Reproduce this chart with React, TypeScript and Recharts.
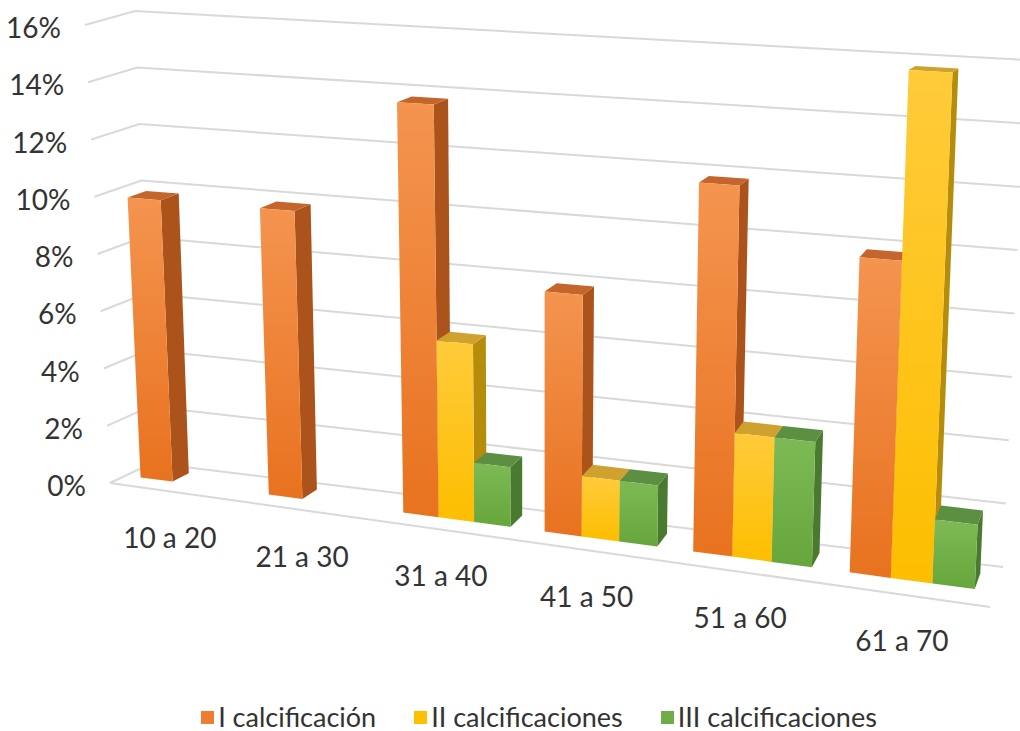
import React from 'react';
import { BarChart, Bar, XAxis, YAxis, CartesianGrid, Legend } from 'recharts';

// data: share of patients per age group (percent)
const categories = ['10 a 20', '21 a 30', '31 a 40', '41 a 50', '51 a 60', '61 a 70'];
const calcI = [9.8, 9.8, 13.73, 7.84, 11.76, 9.8];
const calcII = [0, 0, 5.88, 1.96, 3.92, 15.69];
const calcIII = [0, 0, 1.96, 1.96, 3.92, 1.96];
const seriesNames = ['I calcificación', 'II calcificaciones', 'III calcificaciones'];
const yTicks = [0, 2, 4, 6, 8, 10, 12, 14, 16];

const data = categories.map((cat, i) => ({ cat, c1: calcI[i], c2: calcII[i], c3: calcIII[i] }));

const W = 1020;
const H = 731;
const MARGIN = { top: 10, right: 20, bottom: 0, left: 20 };
const Y_AXIS_W = 60;
const PLOT_LEFT = MARGIN.left + Y_AXIS_W;
const PLOT_W = W - MARGIN.left - MARGIN.right - Y_AXIS_W;
const V_MAX = 16;
const FONT = 'Lato, "Open Sans", sans-serif';

// screen corners of the 3d box the flat chart is projected into
const FRAME = {
  front: { lb: [110, 483], lt: [85, 25], rb: [990, 607], rt: [1014, 69] },
  back: { lb: [152, 463], lt: [135, 11], rb: [1003, 567], rt: [1026, 60] },
};
const WARP = -0.14; // right side is closer, categories widen
const BAR_FRONT = 0.38;
const BAR_BACK = 0.78;

const PALETTE = [
  { base: '#ED7D31', top: '#F4944F', bottom: '#E8721F', side: '#AC531C', cap: '#C4662C' },
  { base: '#FFC000', top: '#FFCB3A', bottom: '#FDBE00', side: '#B58D0A', cap: '#CFA12E' },
  { base: '#70AD47', top: '#7DBA55', bottom: '#66A63C', side: '#4A7A30', cap: '#5C8F42' },
];

type P = number[];
const lerp = (a: P, b: P, t: number): P => [a[0] + (b[0] - a[0]) * t, a[1] + (b[1] - a[1]) * t];
const warp = (u: number) => (u * (1 + WARP)) / (1 + WARP * u);

function project(u: number, v: number, d: number): P {
  const g = warp(u);
  const t = v / V_MAX;
  const plane = (f: any) => lerp(lerp(f.lb, f.rb, g), lerp(f.lt, f.rt, g), t);
  return lerp(plane(FRAME.front), plane(FRAME.back), d);
}

const pts = (list: P[]) => list.map((p) => `${p[0].toFixed(1)},${p[1].toFixed(1)}`).join(' ');

const Box3D = (props: any) => {
  const { x, y, width, height, background, series, payload, dataKey } = props;
  if (!(height > 0.5)) return <g />;
  const u0 = (x - PLOT_LEFT) / PLOT_W;
  const u1 = (x + width - PLOT_LEFT) / PLOT_W;
  let v0 = 0;
  let v1 = payload ? payload[dataKey] : 0;
  if (background && background.height > 0) {
    const base = background.y + background.height;
    v1 = ((base - y) / background.height) * V_MAX;
    v0 = ((base - y - height) / background.height) * V_MAX;
  }
  const c = PALETTE[series];
  const front = [project(u0, v0, BAR_FRONT), project(u1, v0, BAR_FRONT), project(u1, v1, BAR_FRONT), project(u0, v1, BAR_FRONT)];
  const side = [project(u1, v0, BAR_FRONT), project(u1, v0, BAR_BACK), project(u1, v1, BAR_BACK), project(u1, v1, BAR_FRONT)];
  const top = [project(u0, v1, BAR_FRONT), project(u1, v1, BAR_FRONT), project(u1, v1, BAR_BACK), project(u0, v1, BAR_BACK)];
  return (
    <g>
      <polygon points={pts(side)} fill={c.side} />
      <polygon points={pts(top)} fill={c.cap} />
      <polygon points={pts(front)} fill={`url(#front-${series})`} />
    </g>
  );
};

const gridLine = (p: any) => {
  const v = ((p.y + p.height - p.y1) / p.height) * V_MAX;
  const line = [project(0, v, 0), project(0, v, 1), project(1, v, 1)];
  return (
    <g key={p.key}>
      <polyline points={pts(line)} fill="none" stroke="#D9D9D9" strokeWidth={2} />
      {Math.abs(v) < 0.01 && (
        <polyline points={pts([project(0, 0, 0), project(1, 0, 0)])} fill="none" stroke="#D9D9D9" strokeWidth={2} />
      )}
    </g>
  );
};

const YTick = ({ payload }: any) => {
  const [px, py] = project(0, payload.value, 0);
  return (
    <text x={px - 24} y={py + 2} textAnchor="end" dominantBaseline="central" fontFamily={FONT} fontSize={28} fill="#333">
      {payload.value}%
    </text>
  );
};

const XTick = ({ payload }: any) => {
  const u = (payload.coordinate - PLOT_LEFT) / PLOT_W;
  const [px, py] = project(u, 0, 0);
  return (
    <text x={px - 4} y={py + 45} textAnchor="middle" dominantBaseline="central" fontFamily={FONT} fontSize={28} fill="#333">
      {payload.value}
    </text>
  );
};

const LegendContent = ({ payload }: any) => (
  <div style={{ display: 'flex', justifyContent: 'center', gap: 38, paddingLeft: 58, fontFamily: FONT, fontSize: 27, color: '#333', lineHeight: '32px' }}>
    {(payload || []).map((e: any) => (
      <span key={e.value} style={{ display: 'flex', alignItems: 'center' }}>
        <span style={{ display: 'inline-block', width: 13, height: 13, background: e.color, marginRight: 4 }} />
        {e.value}
      </span>
    ))}
  </div>
);

export default function App() {
  const keys = ['c1', 'c2', 'c3'];
  return (
    <div style={{ position: 'absolute', left: 0, top: 0, width: W, height: H, background: '#fff' }}>
      <BarChart width={W} height={H} data={data} margin={MARGIN} barCategoryGap="11.7%" barGap={0}>
        <defs>
          {PALETTE.map((c, i) => (
            <linearGradient key={i} id={`front-${i}`} x1="0" y1="0" x2="0" y2="1">
              <stop offset="0%" stopColor={c.top} />
              <stop offset="100%" stopColor={c.bottom} />
            </linearGradient>
          ))}
        </defs>
        <CartesianGrid vertical={false} horizontal={gridLine} />
        <XAxis dataKey="cat" height={40} axisLine={false} tickLine={false} interval={0} tick={<XTick />} />
        <YAxis width={Y_AXIS_W} domain={[0, V_MAX]} ticks={yTicks} axisLine={false} tickLine={false} tick={<YTick />} />
        <Legend verticalAlign="bottom" content={<LegendContent />} wrapperStyle={{ top: 701, bottom: 'auto' }} />
        {keys.map((k, i) => (
          <Bar
            key={k}
            dataKey={k}
            name={seriesNames[i]}
            fill={PALETTE[i].base}
            isAnimationActive={false}
            shape={(p: any) => <Box3D {...p} series={i} dataKey={k} />}
          />
        ))}
      </BarChart>
    </div>
  );
}
